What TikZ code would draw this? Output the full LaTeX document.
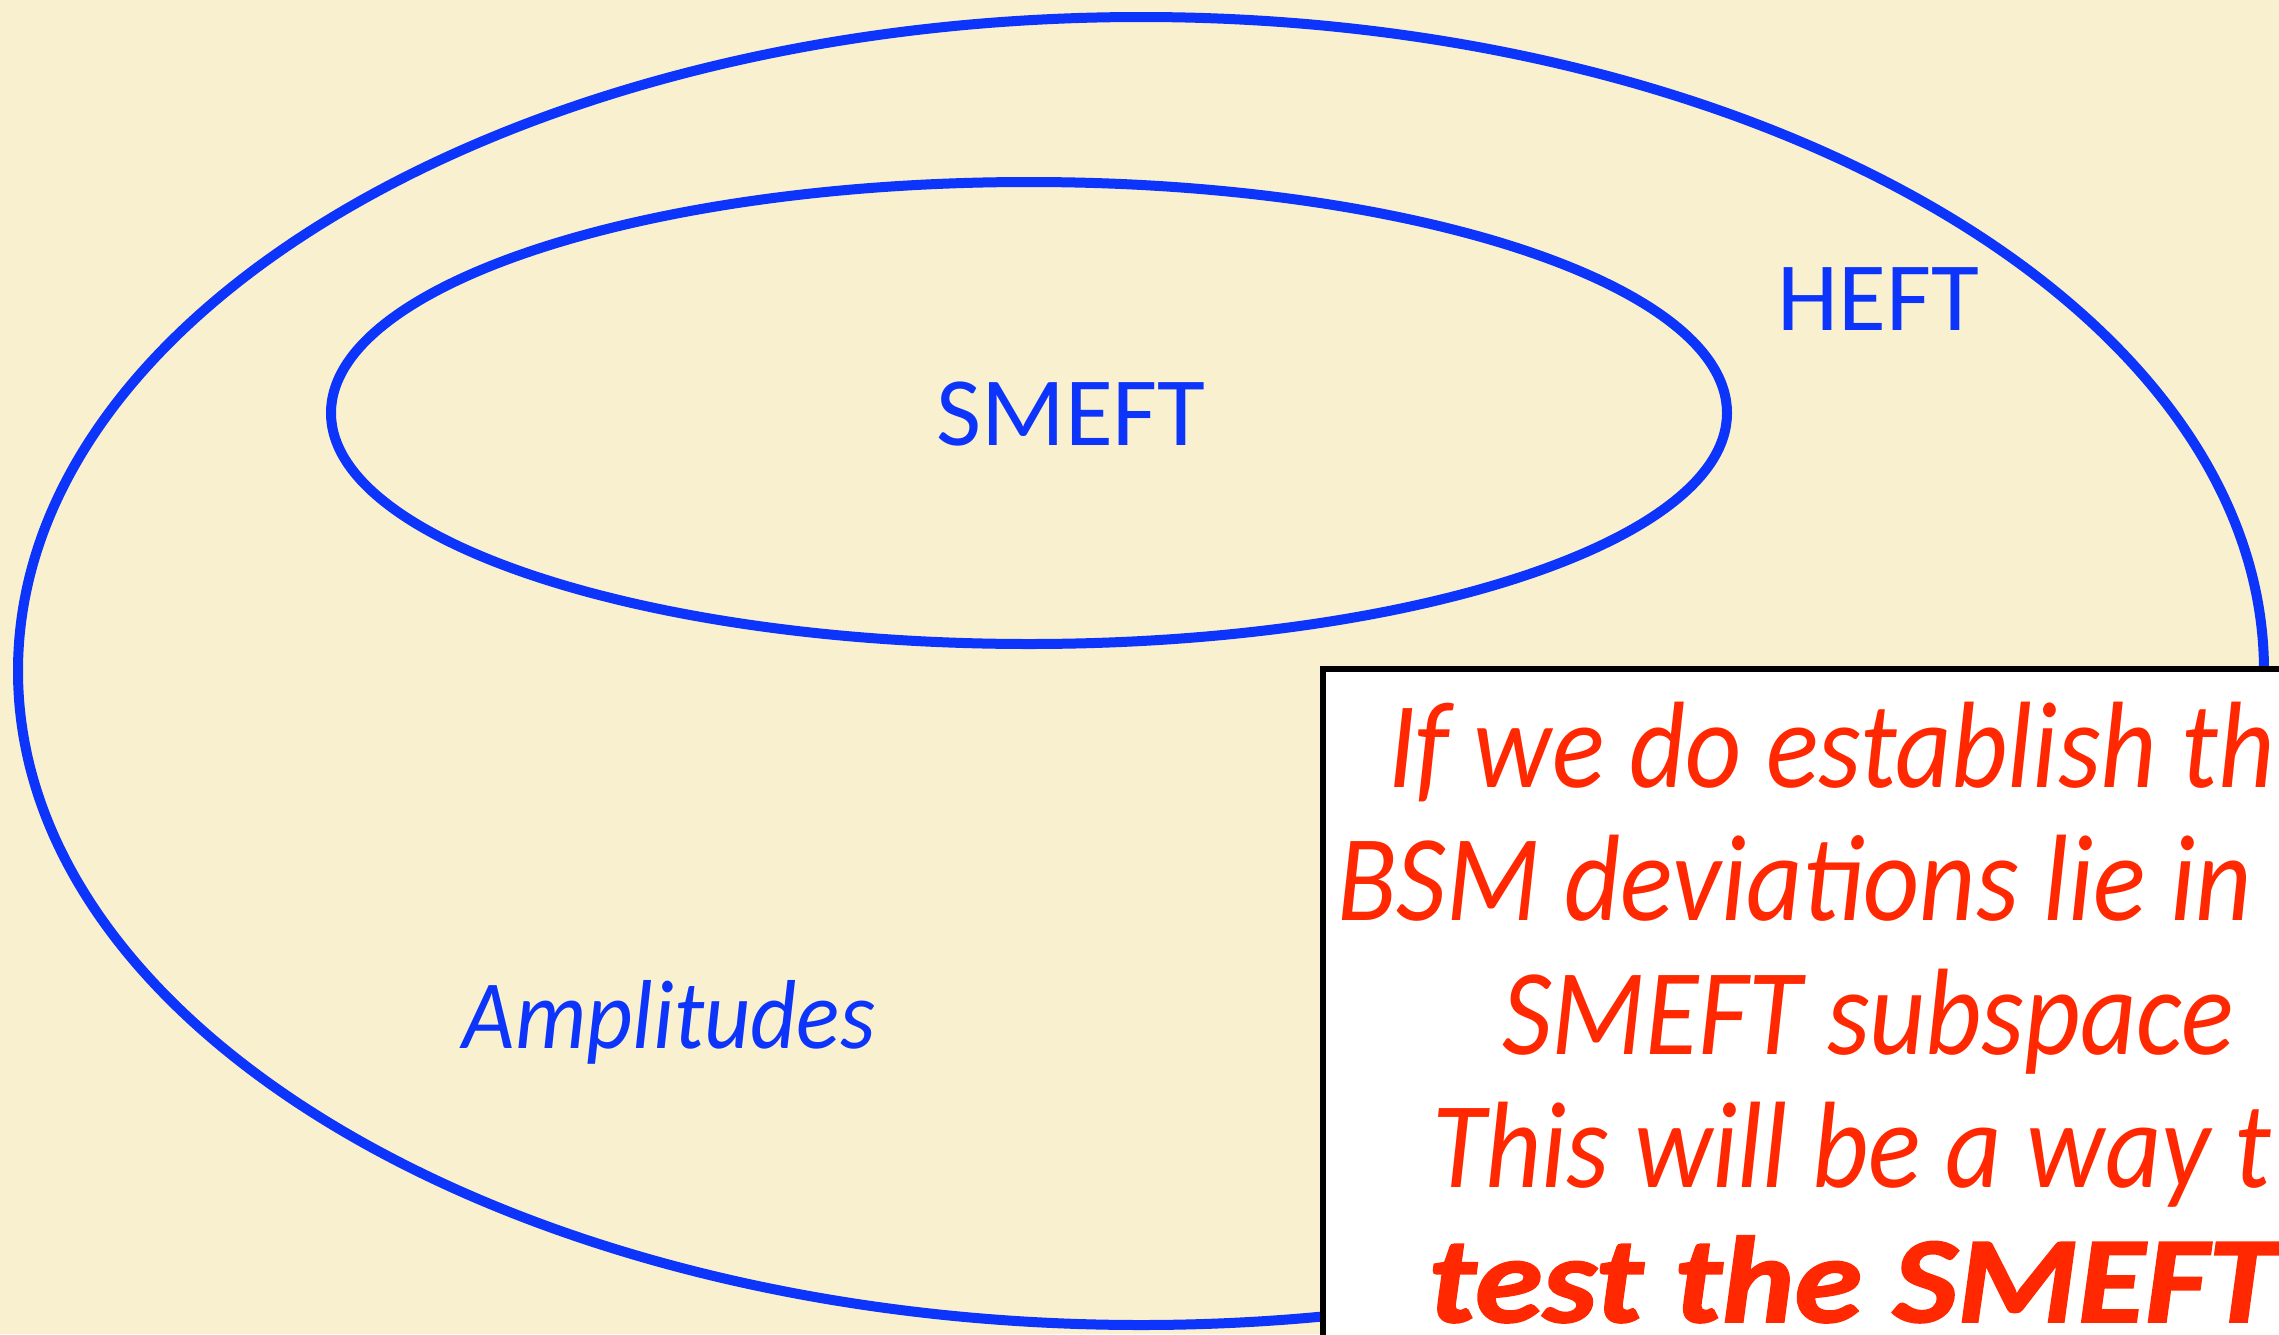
\documentclass[tikz,border=0pt]{standalone}
\usepackage{fontspec}
\setmainfont{Carlito}
\newfontfamily\labelfont{Carlito}[FakeStretch=0.92]
\newfontfamily\notefont{Carlito}[FakeStretch=0.89]
\newfontfamily\heavyfont{Carlito}[FakeStretch=1.12, FakeBold=1.5]
\usepackage{tikz}
\usetikzlibrary{shapes.geometric, positioning}

\definecolor{paper}{RGB}{249,240,207}
\definecolor{crayon}{RGB}{12,52,250}
\definecolor{notered}{RGB}{255,40,0}

\begin{document}
\begin{tikzpicture}[x=1pt, y=-1pt,
        ring/.style={ellipse, draw=crayon, line width=10pt, inner sep=0pt},
        tag/.style={text=crayon, inner sep=0pt, font=\fontsize{98}{100}\selectfont},
        notebox/.style={draw=black, line width=6pt, fill=white, inner sep=0pt, anchor=north west},
        noteline/.style={text=notered, inner sep=0pt, anchor=base west, font=\notefont\itshape\fontsize{123}{130}\selectfont}]
        \clip (0,0) rectangle (2279,1334);
        \fill[paper] (0,0) rectangle (2279,1334);

        \node[ring, minimum width=2246pt, minimum height=1308pt] (heft) at (1141,671) {};
        \node[ring, minimum width=1396pt, minimum height=462pt] (smeft) at (1029,413) {};

        \node[tag] (smeftlabel) at (1071,414) {SMEFT};
        \node[tag] (heftlabel) at (1878,299) {HEFT};
        \node[tag, font=\labelfont\itshape\fontsize{98}{100}\selectfont] (amplabel) at (669,1022) {Amplitudes};

        \node[notebox, minimum width=1100pt, minimum height=800pt] (note) at (1320,666) {};
        \node[noteline] (line1) at (1388,787) {If we do establish th};
        \node[noteline] (line2) at (1337,920) {BSM deviations lie in};
        \node[noteline] (line3) at (1502,1054) {SMEFT subspace};
        \node[noteline] (line4) at (1432,1187) {This will be a way t};
        \node[noteline, font=\heavyfont\bfseries\itshape\fontsize{123}{130}\selectfont] (line5) at (1428,1322) {test the SMEFT};
\end{tikzpicture}
\end{document}
